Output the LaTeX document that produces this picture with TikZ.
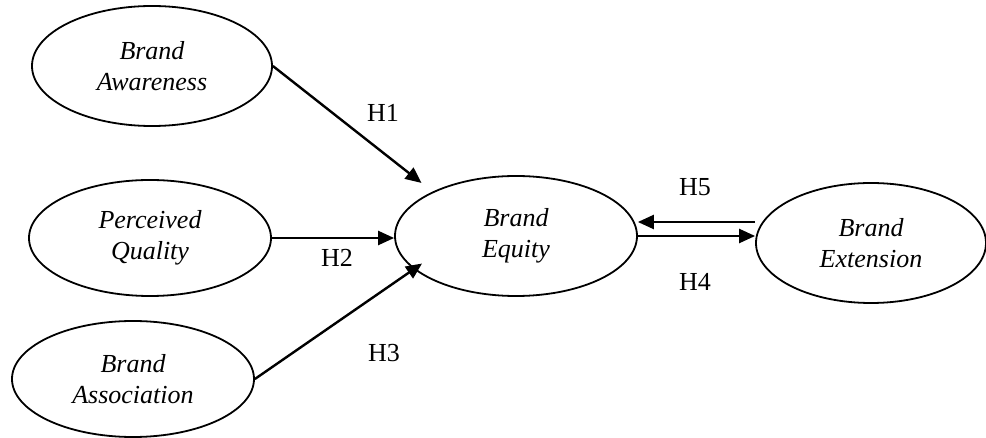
\documentclass[tikz,border=0pt]{standalone}
\usepackage{fontspec}
\setmainfont{Liberation Serif}
\usetikzlibrary{shapes.geometric,arrows.meta}
\tikzset{
  construct/.style={ellipse, draw, line width=0.9pt, minimum width=121pt, minimum height=58pt,
    inner sep=0pt, align=center, font=\fontsize{13}{15.5}\selectfont\itshape},
  arr/.style={line width=1.2pt, -{Triangle[length=8pt,width=7pt]}},
  hlab/.style={inner sep=0pt, font=\fontsize{13}{15.5}\selectfont}
}
\begin{document}
\begin{tikzpicture}[x=0.5pt,y=-0.5pt]
\useasboundingbox (0,0) rectangle (986,438);
\node[construct, minimum width=120pt, minimum height=60pt] (aw) at (152,66) {Brand\\Awareness};
\node[construct] (pq) at (150,238) {Perceived\\Quality};
\node[construct] (ba) at (133,379) {Brand\\Association};
\node[construct, minimum height=60pt] (eq) at (516,236) {Brand\\Equity};
\node[construct, minimum width=115pt, minimum height=60pt] (ext) at (871,243) {Brand\\Extension};

\draw[arr, shorten >=7pt] (aw.east) -- (eq.152);
\draw[arr] (pq.east) -- (pq.east -| eq.west);
\draw[arr, shorten >=-5pt] (ba.east) -- (eq.198);
\draw[arr] ([yshift=10.5pt]ext.west) -- ([yshift=10.5pt]ext.west -| eq.east);
\draw[arr] (eq.east) -- (eq.east -| ext.west);

\node[hlab] (h1) at (383,113) {H1};
\node[hlab] (h2) at (337,258) {H2};
\node[hlab] (h3) at (384,353) {H3};
\node[hlab] (h5) at (695,187) {H5};
\node[hlab] (h4) at (695,282) {H4};
\end{tikzpicture}
\end{document}
